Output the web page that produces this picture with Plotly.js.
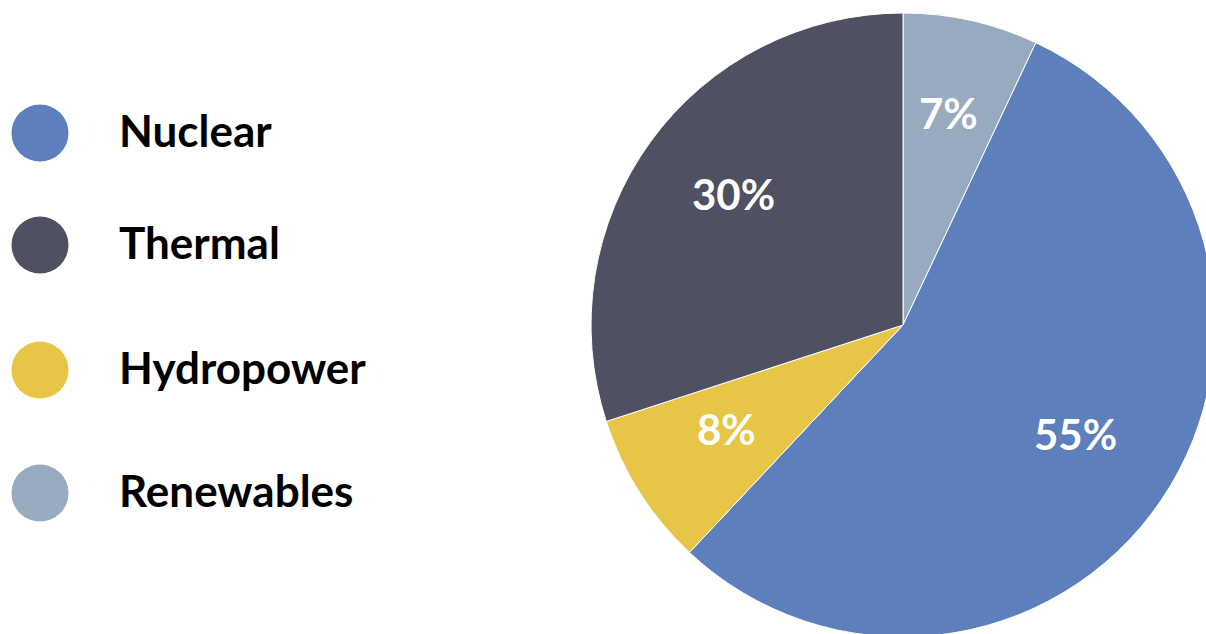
<!DOCTYPE html>
<html>
<head>
<meta charset="utf-8">
<script src="https://cdn.plot.ly/plotly-3.0.1.min.js"></script>
<style>
html,body{margin:0;padding:0;overflow:hidden;background:#fff;width:1206px;height:634px;}
#chart{width:1215px;height:640px;}
</style>
</head>
<body>
<div id="chart"></div>
<script>
// Data
const sliceLabels = ['Renewables', 'Nuclear', 'Hydropower', 'Thermal'];
const sliceValues = [7, 55, 8, 30];
const sliceColors = ['#97aabf', '#5d7fbc', '#e6c547', '#4f5062'];

const legendLabels = ['Nuclear', 'Thermal', 'Hydropower', 'Renewables'];
const legendColors = ['#5d7fbc', '#4f5062', '#e6c547', '#97aabf'];

// Layout constants
const W = 1215, H = 640;
const legendY = [133, 245, 370, 493];
const legendDotX = 40, legendTextX = 117;
const pieX0 = 591, pieTop = 13, pieBottom = 637;
const R = (pieBottom - pieTop) / 2;
const cx = pieX0 + R, cy = pieTop + R;
const FONT = 'Lato, "Open Sans", sans-serif';

const pie = {
  type: 'pie',
  labels: sliceLabels,
  values: sliceValues,
  sort: false,
  direction: 'clockwise',
  rotation: 0,
  marker: {colors: sliceColors, line: {color: '#ffffff', width: 1}},
  textinfo: 'none',
  hoverinfo: 'label+percent',
  showlegend: false,
  domain: {x: [pieX0 / W, 1], y: [1 - pieBottom / H, 1 - pieTop / H]}
};

const legendDots = {
  type: 'scatter',
  mode: 'markers',
  x: legendLabels.map(() => legendDotX),
  y: legendY,
  marker: {size: 57, color: legendColors, line: {width: 0}},
  hoverinfo: 'skip',
  showlegend: false,
  xaxis: 'x', yaxis: 'y'
};

const annotations = [];
legendLabels.forEach((lab, i) => {
  annotations.push({
    xref: 'x', yref: 'y', x: legendTextX, y: legendY[i] - 3,
    xanchor: 'left', yanchor: 'middle', showarrow: false,
    text: lab,
    font: {family: FONT, size: 44, color: '#000000', weight: 700}
  });
});

const total = sliceValues.reduce((a, b) => a + b, 0);
let cum = 0;
sliceValues.forEach((v, i) => {
  const mid = (cum + v / 2) / total * 2 * Math.PI;
  cum += v;
  const r = 0.67 * R;
  const px = cx + r * Math.sin(mid);
  const py = cy - r * Math.cos(mid) - 8;
  annotations.push({
    xref: 'paper', yref: 'paper', x: px / W, y: 1 - py / H,
    xanchor: 'center', yanchor: 'middle', showarrow: false,
    text: Math.round(v / total * 100) + '%',
    font: {family: FONT, size: 42, color: '#ffffff', weight: 700}
  });
});

const layout = {
  width: W, height: H,
  margin: {l: 0, r: 0, t: 0, b: 0},
  paper_bgcolor: '#ffffff', plot_bgcolor: 'rgba(0,0,0,0)',
  showlegend: false,
  xaxis: {domain: [0, 486 / W], range: [0, 486], visible: false, fixedrange: true},
  yaxis: {domain: [0, 1], range: [H, 0], visible: false, fixedrange: true},
  annotations: annotations
};

Plotly.newPlot('chart', [pie, legendDots], layout, {displayModeBar: false, staticPlot: true});
</script>
</body>
</html>
